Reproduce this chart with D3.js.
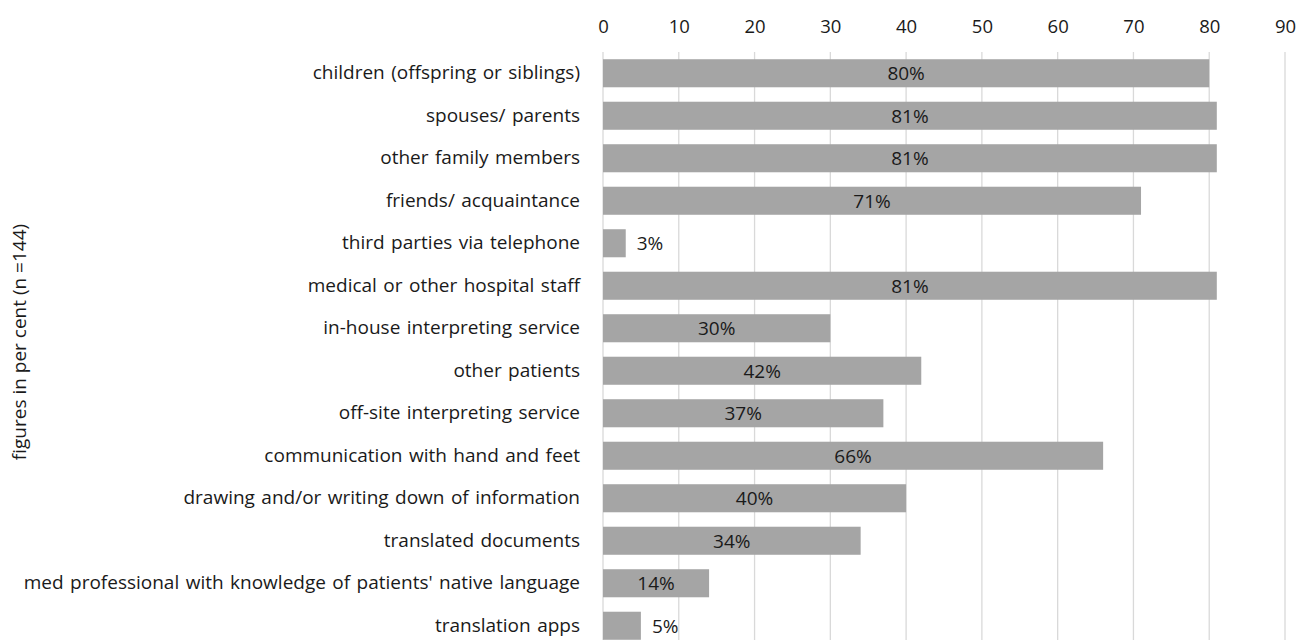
<!DOCTYPE html>
<html>
<head>
<meta charset="utf-8">
<script src="https://cdn.jsdelivr.net/npm/d3@7"></script>
<style>
  html, body { margin: 0; padding: 0; background: #fff; }
  svg { display: block; }
  text { font-family: "Open Sans", sans-serif; fill: #1a1a1a; }
</style>
</head>
<body>
<svg id="chart" width="1308" height="640"></svg>
<script>
// Means of communication used with patients (per cent)
const categories = [
  "children (offspring or siblings)",
  "spouses/ parents",
  "other family members",
  "friends/ acquaintance",
  "third parties via telephone",
  "medical or other hospital staff",
  "in-house interpreting service",
  "other patients",
  "off-site interpreting service",
  "communication with hand and feet",
  "drawing and/or writing down of information",
  "translated documents",
  "med professional with knowledge of patients' native language",
  "translation apps"
];
const values = [80, 81, 81, 71, 3, 81, 30, 42, 37, 66, 40, 34, 14, 5];
const tickValues = [0, 10, 20, 30, 40, 50, 60, 70, 80, 90];
const axisTitle = "figures in per cent (n =144)";

const svg = d3.select("#chart");
const margin = { top: 52, left: 603 };
const plotW = 682, plotH = 595;
const font = "'Open Sans', sans-serif";

const x = d3.scaleLinear().domain([0, 90]).range([margin.left, margin.left + plotW]);
const y = d3.scaleBand().domain(categories).range([margin.top, margin.top + plotH]).paddingInner(0.34).paddingOuter(0.17);

// gridlines
svg.append("g").selectAll("line").data(tickValues).join("line")
  .attr("x1", d => x(d)).attr("x2", d => x(d))
  .attr("y1", margin.top).attr("y2", margin.top + plotH)
  .attr("stroke", "#d9d9d9").attr("stroke-width", 1.3);

// top axis labels
const xAxis = d3.axisTop(x).tickValues(tickValues).tickSize(0).tickPadding(0);
const gx = svg.append("g").attr("transform", "translate(0,33)").call(xAxis);
gx.select(".domain").remove();
gx.selectAll("text").style("font-size", "18.5px").attr("fill", "#1a1a1a").style("font-family", font);

// category labels
const yAxis = d3.axisLeft(y).tickSize(0).tickPadding(0);
const gy = svg.append("g").attr("transform", "translate(580,0)").call(yAxis);
gy.select(".domain").remove();
gy.selectAll("text")
  .style("font-size", "19px")
  .style("word-spacing", "1.5px")
  .attr("fill", "#1a1a1a")
  .style("font-family", font);

// bars
svg.append("g").selectAll("rect").data(values).join("rect")
  .attr("x", x(0))
  .attr("y", (d, i) => y(categories[i]))
  .attr("width", d => x(d) - x(0))
  .attr("height", y.bandwidth())
  .attr("fill", "#a5a5a5");

// value labels: centred in the bar, outside for very short bars
svg.append("g").selectAll("text").data(values).join("text")
  .attr("x", d => d < 10 ? x(d) + 11 : (x(0) + x(d)) / 2)
  .attr("y", (d, i) => y(categories[i]) + y.bandwidth() / 2)
  .attr("dy", "0.36em")
  .attr("text-anchor", d => d < 10 ? "start" : "middle")
  .style("font-size", "19px")
  .text(d => d + "%");

// vertical axis title
svg.append("text")
  .attr("transform", "translate(26,342) rotate(-90)")
  .attr("text-anchor", "middle")
  .style("font-size", "19px")
  .text(axisTitle);
</script>
</body>
</html>
